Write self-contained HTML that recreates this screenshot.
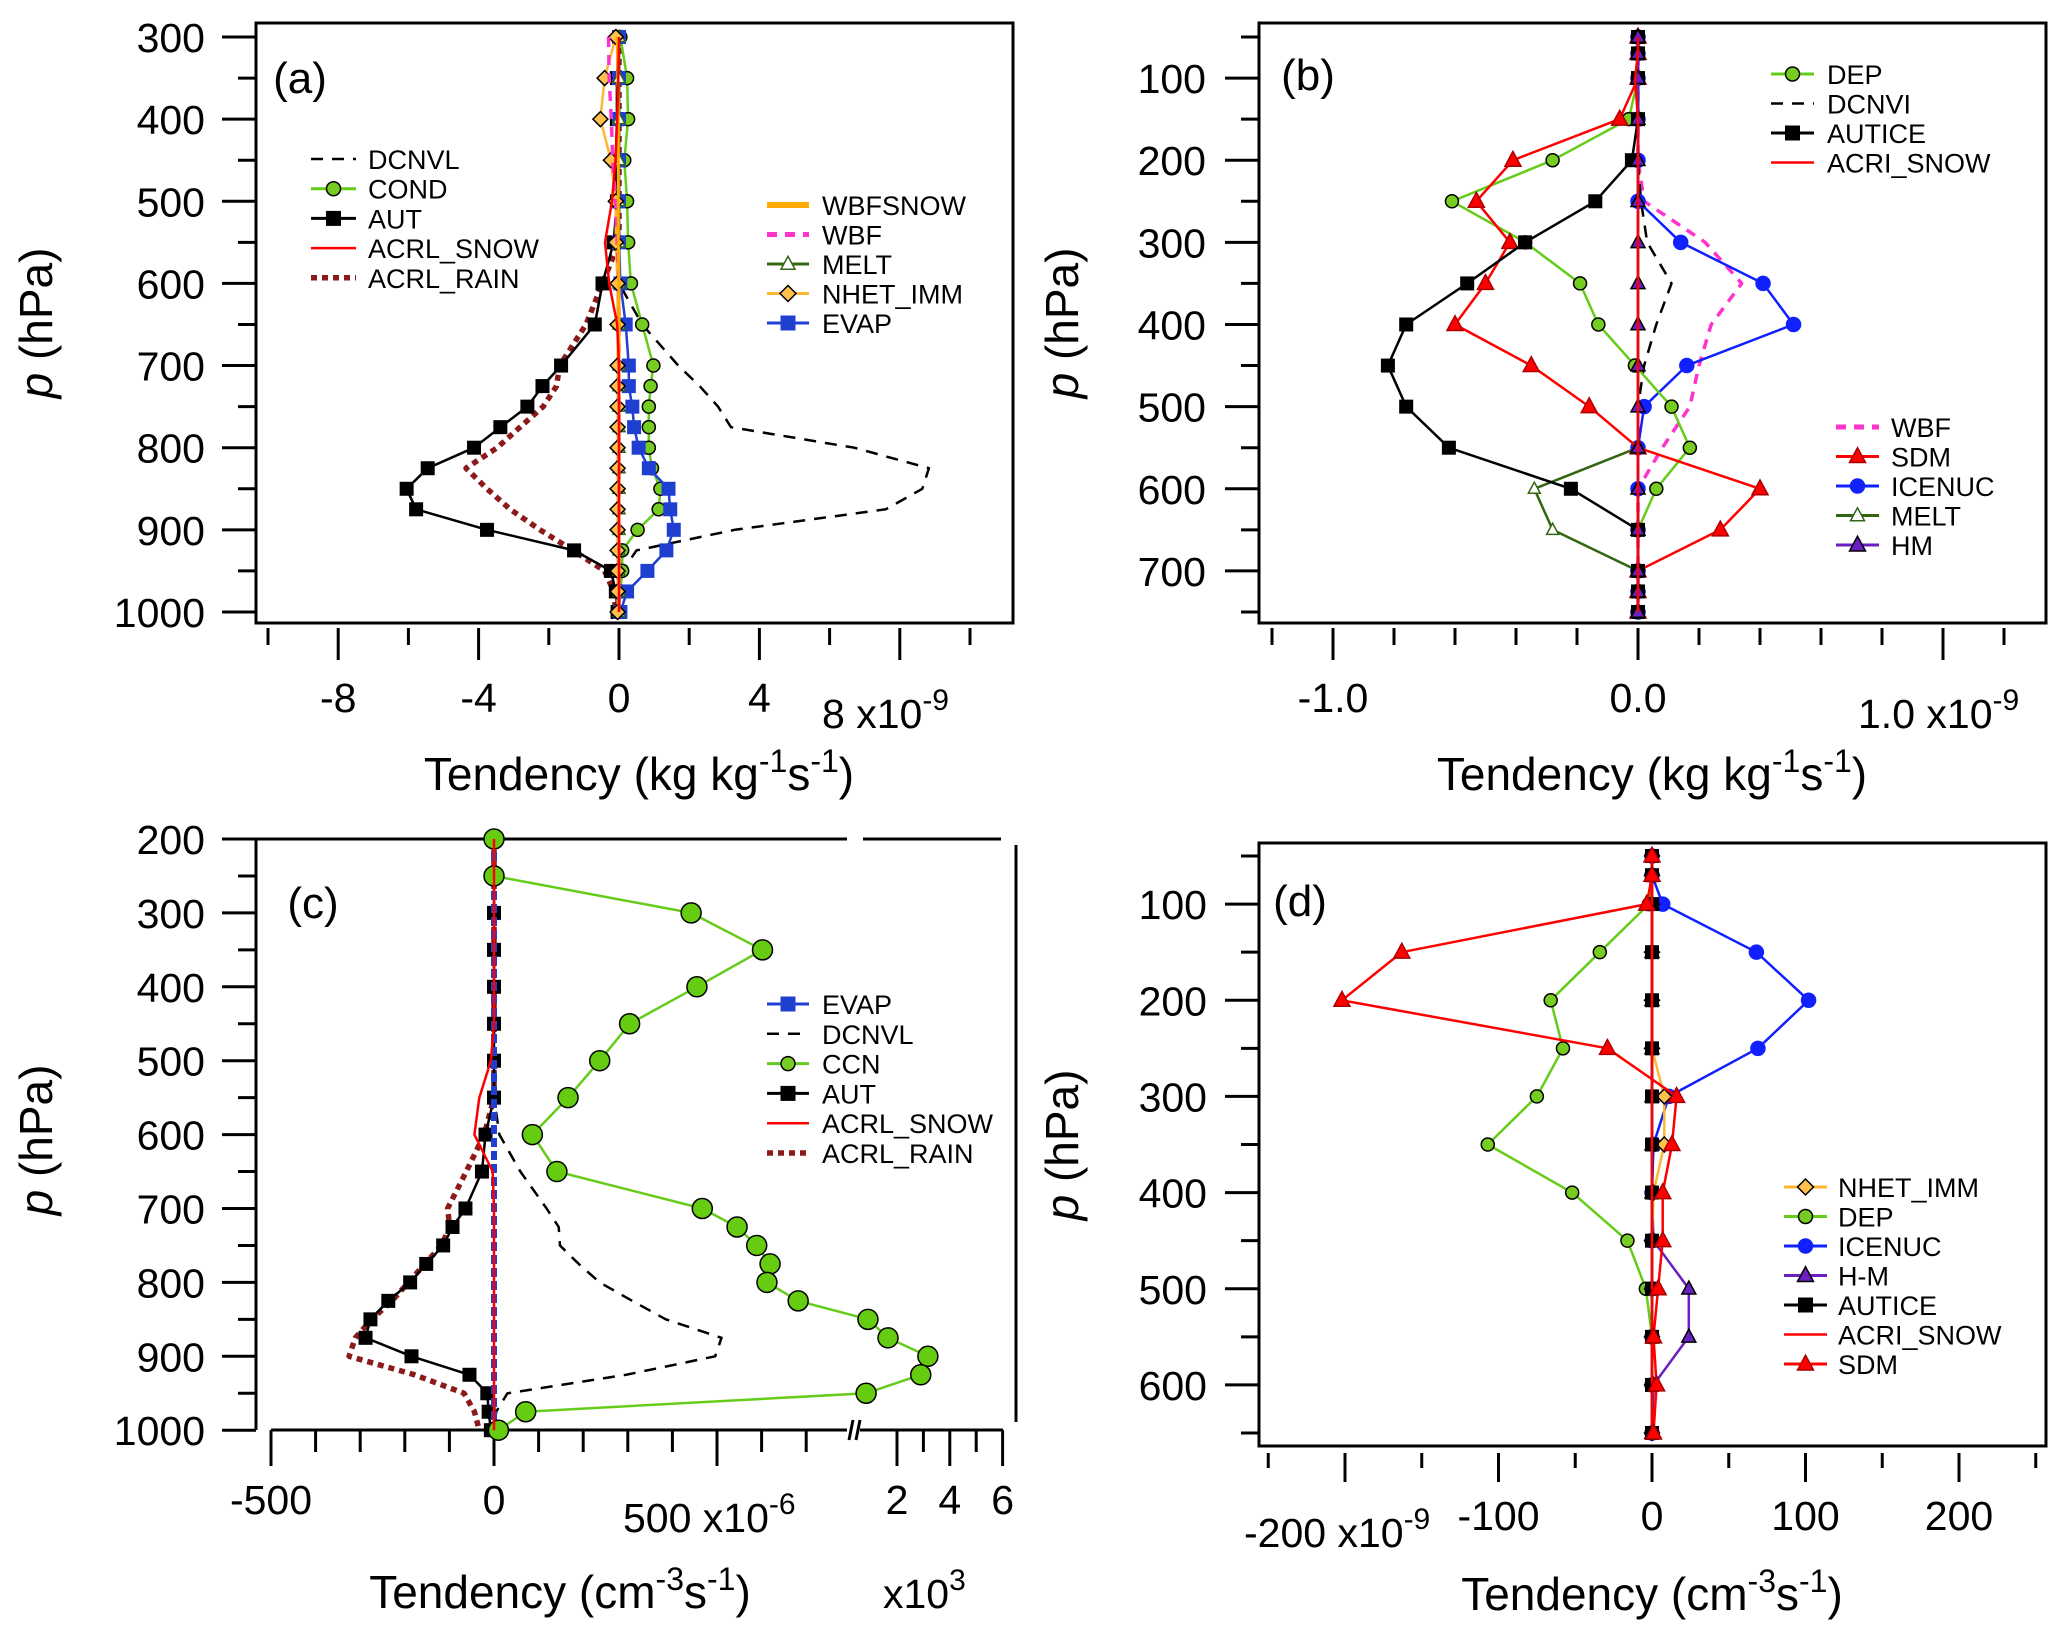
<!DOCTYPE html>
<html><head><meta charset="utf-8"><title>Tendency profiles</title>
<style>
html,body{margin:0;padding:0;background:#fff;}
svg{display:block;font-family:"Liberation Sans",Arial,sans-serif;}
</style></head>
<body>
<svg id="chart" width="2067" height="1633" viewBox="0 0 2067 1633" xmlns="http://www.w3.org/2000/svg"></svg>
<script>
// ---------- DATA ----------
const pA = [300,350,400,450,500,550,600,650,700,725,750,775,800,825,850,875,900,925,950,975,1000];
const aDCNVL = [0,0,0,0,0,0,0,0.66,1.69,2.3,2.82,3.19,6.7,8.83,8.64,7.6,3.3,0.5,0.1,0,0];
const aRAIN = [0,0,0,0,0,0,-0.47,-0.94,-1.69,-1.78,-2.16,-2.82,-3.47,-4.36,-3.76,-3.1,-2.25,-1.31,-0.41,-0.15,-0.09];
const aAUT = [0,-0.06,-0.06,-0.09,-0.06,-0.15,-0.47,-0.69,-1.65,-2.18,-2.61,-3.38,-4.13,-5.45,-6.05,-5.78,-3.76,-1.28,-0.23,-0.09,-0.04];
const aCOND = [0.04,0.23,0.26,0.15,0.23,0.26,0.34,0.66,0.98,0.9,0.85,0.85,0.85,0.94,1.18,1.13,0.53,0.09,0.09,0.04,0];
const aEVAP = [0,0,0,0,0,0,0.04,0.19,0.28,0.28,0.38,0.43,0.56,0.85,1.41,1.46,1.56,1.35,0.81,0.23,0.04];
const aMELT = [0,0,0,0,0,0,0,0,0,0,0,0,0,0,0,0,0,0,0,0,0];
const aNHET = [-0.09,-0.41,-0.53,-0.23,-0.09,-0.09,-0.04,-0.04,-0.04,-0.04,-0.04,-0.04,-0.04,-0.04,-0.04,-0.04,-0.04,-0.04,-0.04,-0.04,-0.04];
const aWBF = [-0.3,-0.28,-0.22,-0.18,-0.1,-0.05,0,0,0,0,0,0,0,0,0,0,0,0,0,0,0];
const aWBFSNOW = [-0.05,-0.03,-0.02,-0.02,-0.02,-0.02,0,0,0,0,0,0,0,0,0,0,0,0,0,0,0];
const aSNOW = [0,-0.02,-0.05,-0.1,-0.2,-0.4,-0.28,-0.05,0,0,0,0,0,0,0,0,0,0,0,0,0];
const aXTicks = [-10,-8,-6,-4,-2,0,2,4,6,8,10];
const aXLabels = ["-8","-4","0","4"];
const aXLabelVals = [-8,-4,0,4];
const aYTicks = [300,400,500,600,700,800,900,1000];

const pB = [50,70,100,150,200,250,300,350,400,450,500,550,600,650,700,725,750];
const bAUTICE = [0,0,0,0,-0.02,-0.14,-0.37,-0.56,-0.76,-0.82,-0.76,-0.62,-0.22,0,0,0,0];
const bDEP = [0,0,0,-0.03,-0.28,-0.61,-0.37,-0.19,-0.13,-0.01,0.11,0.17,0.06,0,0,0,0];
const bSDM = [0,0,0,-0.06,-0.41,-0.53,-0.42,-0.5,-0.6,-0.35,-0.16,0,0.4,0.27,0,0,0];
const bICENUC = [0,0,0,0,0,0,0.14,0.41,0.51,0.16,0.02,0,0,0,0,0,0];
const bWBF = [0,0,0,0,0,0.02,0.22,0.34,0.24,0.2,0.17,0.08,0,0,0,0,0];
const bDCNVI = [0,0,0,0,0,0.01,0.03,0.11,0.06,0.02,0,0,0,0,0,0,0];
const bMELT = [0,0,0,0,0,0,0,0,0,0,0,0,-0.34,-0.28,0,0,0];
const bHM = [0,0,0,0,0,0,0,0,0,0,0,0,0,0,0,0,0];
const bSNOW = [0,0,-0.01,0,0,0,0,0,0,0,0,0,0,0,0,0,0];
const bXTicks = [-1.2,-1.0,-0.8,-0.6,-0.4,-0.2,0,0.2,0.4,0.6,0.8,1.0,1.2];
const bYTicks = [100,200,300,400,500,600,700];

const pC = [200,250,300,350,400,450,500,550,600,650,700,725,750,775,800,825,850,875,900,925,950,975,1000];
const cCCN = [0,0,442,602,455,304,237,166,86,141,467,545,589,619,612,682,0.90e9,1.66e9,3.17e9,2.90e9,0.83e9,71,10];
const cAUT = [0,0,0,0,0,0,0,0,-19,-27,-64,-93,-114,-152,-188,-237,-277,-288,-185,-55,-15,-12,-7];
const cRAIN = [0,0,0,0,0,0,0,0,-22,-62,-104,-99,-118,-155,-192,-229,-274,-311,-325,-178,-67,-44,-33];
const cSNOW = [0,0,0,0,0,0,-7,-33,-44,-3,0,0,0,0,0,0,0,0,0,0,0,0,0];
const cEVAP = [0,0,0,0,0,0,0,0,0,0,0,0,0,0,0,0,0,0,0,0,0,0,0];
const cDCNVL = [0,0,0,0,0,0,0,0,12,59,118,145,148,190,237,310,385,510,496,296,30,5,0];
const cYTicks = [200,300,400,500,600,700,800,900,1000];

const pD = [50,70,100,150,200,250,300,350,400,450,500,550,600,650];
const dSDM = [0,0,-3.4,-163,-202,-29,16,13,7,7,4,1,3,1];
const dDEP = [0,0,-2,-34,-66,-58,-75,-107,-52,-16,-4,0,0,0];
const dICENUC = [0,0,7,68,102,69,11,1,0,0,0,0,0,0];
const dHM = [0,0,0,0,0,0,0,0,0,1,24,24,1,0];
const dNHET = [0,0,0,0,0,0,8,8,1,0,0,0,0,0];
const dAUTICE = [0,0,0,0,0,0,0,0,0,0,0,0,0,0];
const dSNOW = [0,0,0,0,0,0,0,0,0,0,0,0,0,0];
const dXTicks = [-250,-200,-150,-100,-50,0,50,100,150,200,250];
const dYTicks = [100,200,300,400,500,600];

// ---------- AXES ----------
const xA = v => 619 + v*35.1;
const yA = p => 37 + (p-300)*0.8214;
const xB = v => 1638 + v*305;
const yB = p => 37 + (p-50)*0.8214;
const xC = v => v <= 1e6 ? 494 + v*0.446 : 897 + (v/1e9 - 2)*26.4;
const yC = p => 839 + (p-200)*0.739;
const xD = v => 1652 + v*1.535;
const yD = p => 856 + (p-50)*0.9617;

const NS = "http://www.w3.org/2000/svg";
const svg = document.getElementById('chart');
const TICK = 41, TITLE = 46, LEG = 27, PL = 44;
function mk(tag, attrs, parent){
  const e = document.createElementNS(NS, tag);
  for (const k in attrs) e.setAttribute(k, attrs[k]);
  parent.appendChild(e);
  return e;
}
function txt(parent, x, y, s, size, anchor, name){
  const t = mk('text', {x:x, y:y, 'font-size':size, 'text-anchor':anchor||'start', fill:'#000'}, parent);
  t.textContent = s;
  
  
  return t;
}
function marker(g, type, x, y, fill, stroke, s){
  let m;
  if (type==='circle') m = mk('circle', {cx:x, cy:y, r:s, fill:fill, stroke:stroke, 'stroke-width':1.5}, g);
  else if (type==='square') m = mk('rect', {x:x-s, y:y-s, width:2*s, height:2*s, fill:fill, stroke:stroke, 'stroke-width':1}, g);
  else if (type==='tri') m = mk('polygon', {points:`${x},${y-s*1.1} ${x-s},${y+s*0.75} ${x+s},${y+s*0.75}`, fill:fill, stroke:stroke, 'stroke-width':1.5}, g);
  else if (type==='diamond') m = mk('polygon', {points:`${x},${y-s} ${x+s},${y} ${x},${y+s} ${x-s},${y}`, fill:fill, stroke:stroke, 'stroke-width':1.5}, g);
  return m;
}
function series(parent, name, vals, ps, xf, yf, st){
  const g = mk('g', {}, parent);
  
  
  const pts = vals.map((v,i)=> xf(v).toFixed(1)+','+yf(ps[i]).toFixed(1)).join(' ');
  const line = mk('polyline', {points:pts, fill:'none', stroke:st.color, 'stroke-width':st.w||2.5, 'stroke-dasharray':st.dash||'none', 'stroke-linejoin':'round'}, g);
  
  
  if (st.marker){
    vals.forEach((v,i)=>{
      const m = marker(g, st.marker, xf(v), yf(ps[i]), st.fill, st.mstroke||'#000', st.ms||7);
      
      
    });
  }
  return g;
}
function legend(parent, name, x1, x2, xt, y, label, st){
  const g = mk('g', {}, parent);
  
  
  mk('line', {x1:x1, y1:y, x2:x2, y2:y, stroke:st.color, 'stroke-width':st.lw||st.w||3, 'stroke-dasharray':st.ldash||st.dash||'none'}, g);
  if (st.marker) marker(g, st.marker, (x1+x2)/2, y, st.fill, st.mstroke||'#000', st.lms||7);
  txt(g, xt, y+10, label, LEG, 'start', name+'-label');
}
function yAxis(parent, name, left, ticks, minorTicks, yf, labelRight){
  const g = mk('g', {}, parent);
  
  
  ticks.forEach(p=>{
    mk('line', {x1:left-34, y1:yf(p), x2:left, y2:yf(p), stroke:'#000', 'stroke-width':3}, g);
    txt(g, labelRight, yf(p)+15, String(p), TICK, 'end', name+'-tick-label');
  });
  minorTicks.forEach(p=>{
    mk('line', {x1:left-18, y1:yf(p), x2:left, y2:yf(p), stroke:'#000', 'stroke-width':3}, g);
  });
}
function xTicks(parent, name, ticks, majors, xf, y0, yMaj, yMin){
  const g = mk('g', {}, parent);
  
  
  ticks.forEach(v=>{
    const isMaj = majors.some(m=>Math.abs(m-v)<1e-9);
    mk('line', {x1:xf(v), y1:y0, x2:xf(v), y2:isMaj?yMaj:yMin, stroke:'#000', 'stroke-width':3}, g);
  });
}
function yTitle(parent, name, x, y){
  const t = mk('text', {x:0, y:0, 'font-size':TITLE, 'text-anchor':'middle', transform:`translate(${x},${y}) rotate(-90)`}, parent);
  t.innerHTML = '<tspan font-style="italic">p</tspan> (hPa)';
  
  
}
function xTitle(parent, name, x, y, unitHtml){
  const t = mk('text', {x:x, y:y, 'font-size':TITLE, 'text-anchor':'middle'}, parent);
  t.innerHTML = unitHtml;
  
  
}
function mult(parent, name, x, y, base, exp){
  const t = mk('text', {x:x, y:y, 'font-size':TICK}, parent);
  t.innerHTML = base + '<tspan dy="-18" font-size="30">' + exp + '</tspan>';
  
  
}
const kgUnit = 'Tendency (kg kg<tspan dy="-18" font-size="32">-1</tspan><tspan dy="18">s</tspan><tspan dy="-18" font-size="32">-1</tspan><tspan dy="18">)</tspan>';
const cmUnit = 'Tendency (cm<tspan dy="-18" font-size="32">-3</tspan><tspan dy="18">s</tspan><tspan dy="-18" font-size="32">-1</tspan><tspan dy="18">)</tspan>';

const S = {
  dcnvl:{color:'#000', dash:'12,9', w:2.5},
  rain:{color:'#8b1a1a', dash:'6,5', w:5.5, ldash:'6,5', lw:5.5},
  aut:{color:'#000', marker:'square', fill:'#000', ms:6.5, lms:7},
  cond:{color:'#66cc1a', marker:'circle', fill:'#77cc22', ms:6.5, lms:7},
  evap:{color:'#1f3fd0', marker:'square', fill:'#1f3fd0', mstroke:'#1f3fd0', ms:6.5, lms:7},
  melt:{color:'#336611', marker:'tri', fill:'#fff', mstroke:'#336611', ms:6, lms:7},
  nhet:{color:'#ffb733', marker:'diamond', fill:'#ffc04d', ms:7.5, lms:8},
  wbf:{color:'#ff33cc', dash:'10,8', w:3.5, lw:5},
  wbfsnow:{color:'#ffaa00', w:3, lw:6},
  snow:{color:'#ff0000', w:2.5},
  sdm:{color:'#ff0000', marker:'tri', fill:'#ff0000', mstroke:'#aa0000', ms:8, lms:8},
  icenuc:{color:'#1020ff', marker:'circle', fill:'#1020ff', mstroke:'#1020ff', ms:7, lms:7},
  hm:{color:'#6a1fc0', marker:'tri', fill:'#6a1fc0', mstroke:'#000', ms:7, lms:8},
  dep:{color:'#66cc1a', marker:'circle', fill:'#77cc22', ms:6.5, lms:7},
  autice:{color:'#000', marker:'square', fill:'#000', ms:6.5, lms:7}
};

// ================= PANEL A =================
const PA = mk('g', {}, svg);


mk('rect', {x:256, y:23, width:757, height:600, fill:'none', stroke:'#000', 'stroke-width':3}, PA);
yAxis(PA, 'panel-a-y-axis', 256, aYTicks, [350,450,550,650,750,850,950], yA, 205);
xTicks(PA, 'panel-a-x-axis', aXTicks, [-8,-4,0,4,8], xA, 628, 660, 645);
aXLabelVals.forEach((v,i)=>txt(PA, xA(v), 712, aXLabels[i], TICK, 'middle', 'panel-a-x-tick-label'));
mult(PA, 'panel-a-x-multiplier', 822, 728, '8 x10', '-9');
xTitle(PA, 'panel-a-x-title', 639, 790, kgUnit);
yTitle(PA, 'panel-a-y-title', 52, 323);
txt(PA, 300, 93, '(a)', PL, 'middle', 'panel-a-label');
const PAd = mk('g', {}, PA);
series(PAd, 'a-dcnvl', aDCNVL, pA, xA, yA, S.dcnvl);
series(PAd, 'a-acrl-rain', aRAIN, pA, xA, yA, S.rain);
series(PAd, 'a-aut', aAUT, pA, xA, yA, S.aut);
series(PAd, 'a-cond', aCOND, pA, xA, yA, S.cond);
series(PAd, 'a-evap', aEVAP, pA, xA, yA, S.evap);
series(PAd, 'a-melt', aMELT, pA, xA, yA, S.melt);
series(PAd, 'a-nhet-imm', aNHET, pA, xA, yA, S.nhet);
series(PAd, 'a-wbf', aWBF, pA, xA, yA, S.wbf);
series(PAd, 'a-wbfsnow', aWBFSNOW, pA, xA, yA, S.wbfsnow);
series(PAd, 'a-acrl-snow', aSNOW, pA, xA, yA, S.snow);
[['DCNVL',S.dcnvl],['COND',S.cond],['AUT',S.aut],['ACRL_SNOW',S.snow],['ACRL_RAIN',S.rain]].forEach((e,i)=>
  legend(PA, 'a-legend-'+e[0].toLowerCase(), 311, 356, 368, 159+i*29.7, e[0], e[1]));
[['WBFSNOW',S.wbfsnow],['WBF',S.wbf],['MELT',S.melt],['NHET_IMM',S.nhet],['EVAP',S.evap]].forEach((e,i)=>
  legend(PA, 'a-legend-'+e[0].toLowerCase(), 767, 809, 822, 205+i*29.5, e[0], e[1]));

// ================= PANEL B =================
const PB = mk('g', {}, svg);


mk('rect', {x:1259, y:23, width:787, height:600, fill:'none', stroke:'#000', 'stroke-width':3}, PB);
yAxis(PB, 'panel-b-y-axis', 1259, bYTicks, [50,150,250,350,450,550,650,750], yB, 1206);
xTicks(PB, 'panel-b-x-axis', bXTicks, [-1.0,0,1.0], xB, 628, 660, 645);
txt(PB, xB(-1.0), 712, '-1.0', TICK, 'middle', 'panel-b-x-tick-label');
txt(PB, xB(0), 712, '0.0', TICK, 'middle', 'panel-b-x-tick-label');
mult(PB, 'panel-b-x-multiplier', 1858, 728, '1.0 x10', '-9');
xTitle(PB, 'panel-b-x-title', 1652, 790, kgUnit);
yTitle(PB, 'panel-b-y-title', 1078, 323);
txt(PB, 1308, 90, '(b)', PL, 'middle', 'panel-b-label');
series(PB, 'b-wbf', bWBF, pB, xB, yB, S.wbf);
series(PB, 'b-dcnvi', bDCNVI, pB, xB, yB, S.dcnvl);
series(PB, 'b-melt', bMELT, pB, xB, yB, S.melt);
series(PB, 'b-icenuc', bICENUC, pB, xB, yB, S.icenuc);
series(PB, 'b-dep', bDEP, pB, xB, yB, S.dep);
series(PB, 'b-sdm', bSDM, pB, xB, yB, S.sdm);
series(PB, 'b-autice', bAUTICE, pB, xB, yB, S.autice);
series(PB, 'b-hm', bHM, pB, xB, yB, S.hm);
series(PB, 'b-acri-snow', bSNOW, pB, xB, yB, S.snow);
[['DEP',S.dep],['DCNVI',S.dcnvl],['AUTICE',S.autice],['ACRI_SNOW',S.snow]].forEach((e,i)=>
  legend(PB, 'b-legend-'+e[0].toLowerCase(), 1771, 1814, 1827, 74+i*29.5, e[0], e[1]));
[['WBF',S.wbf],['SDM',S.sdm],['ICENUC',S.icenuc],['MELT',S.melt],['HM',S.hm]].forEach((e,i)=>
  legend(PB, 'b-legend-'+e[0].toLowerCase(), 1836, 1879, 1891, 427+i*29.5, e[0], e[1]));

// ================= PANEL C =================
const PC = mk('g', {}, svg);


const cAx = mk('g', {stroke:'#000', 'stroke-width':3, fill:'none'}, PC);


mk('line', {x1:256, y1:839, x2:256, y2:1430}, cAx);
mk('line', {x1:256, y1:839, x2:847, y2:839}, cAx);
mk('line', {x1:863, y1:839, x2:1001, y2:839}, cAx);
mk('line', {x1:1016, y1:845, x2:1016, y2:1422}, cAx);
mk('line', {x1:271, y1:1430, x2:847, y2:1430}, cAx);
mk('line', {x1:860, y1:1430, x2:1003, y2:1430}, cAx);
mk('line', {x1:849, y1:1440, x2:853, y2:1420}, cAx);
mk('line', {x1:856, y1:1440, x2:860, y2:1420}, cAx);
yAxis(PC, 'panel-c-y-axis', 256, cYTicks, [250,350,450,550,650,750,850,950], yC, 205);
xTicks(PC, 'panel-c-x-axis-left', [-500,-400,-300,-200,-100,0,100,200,300,400,500,600,700], [-500,0,500], xC, 1430, 1466, 1452);
xTicks(PC, 'panel-c-x-axis-right', [2e9,3e9,4e9,5e9,6e9], [2e9,4e9,6e9], xC, 1430, 1466, 1452);
txt(PC, xC(-500), 1514, '-500', TICK, 'middle', 'panel-c-x-tick-label');
txt(PC, xC(0), 1514, '0', TICK, 'middle', 'panel-c-x-tick-label');
mult(PC, 'panel-c-x-multiplier', 623, 1532, '500 x10', '-6');
txt(PC, xC(2e9), 1514, '2', TICK, 'middle', 'panel-c-x-tick-label');
txt(PC, xC(4e9), 1514, '4', TICK, 'middle', 'panel-c-x-tick-label');
txt(PC, xC(6e9), 1514, '6', TICK, 'middle', 'panel-c-x-tick-label');
mult(PC, 'panel-c-x-break-multiplier', 883, 1608, 'x10', '3');
xTitle(PC, 'panel-c-x-title', 560, 1608, cmUnit);
yTitle(PC, 'panel-c-y-title', 52, 1140);
txt(PC, 313, 918, '(c)', PL, 'middle', 'panel-c-label');
series(PC, 'c-dcnvl', cDCNVL, pC, xC, yC, S.dcnvl);
series(PC, 'c-acrl-rain', cRAIN, pC, xC, yC, S.rain);
series(PC, 'c-aut', cAUT, pC, xC, yC, S.aut);
series(PC, 'c-evap', cEVAP, pC, xC, yC, {color:'#1f3fd0', w:6, dash:'9,4'});
series(PC, 'c-ccn', cCCN, pC, xC, yC, {color:'#66cc1a', marker:'circle', fill:'#66cc11', ms:10});
series(PC, 'c-acrl-snow', cSNOW, pC, xC, yC, S.snow);
[['EVAP',S.evap],['DCNVL',S.dcnvl],['CCN',S.cond],['AUT',S.aut],['ACRL_SNOW',S.snow],['ACRL_RAIN',S.rain]].forEach((e,i)=>
  legend(PC, 'c-legend-'+e[0].toLowerCase(), 767, 809, 822, 1004+i*29.8, e[0], e[1]));

// ================= PANEL D =================
const PD = mk('g', {}, svg);


mk('rect', {x:1259, y:843, width:787, height:603, fill:'none', stroke:'#000', 'stroke-width':3}, PD);
yAxis(PD, 'panel-d-y-axis', 1259, dYTicks, [50,150,250,350,450,550,650], yD, 1207);
xTicks(PD, 'panel-d-x-axis', dXTicks, [-200,-100,0,100,200], xD, 1453, 1482, 1468);
mult(PD, 'panel-d-x-multiplier', 1244, 1547, '-200 x10', '-9');
txt(PD, xD(-100), 1530, '-100', TICK, 'middle', 'panel-d-x-tick-label');
txt(PD, xD(0), 1530, '0', TICK, 'middle', 'panel-d-x-tick-label');
txt(PD, xD(100), 1530, '100', TICK, 'middle', 'panel-d-x-tick-label');
txt(PD, xD(200), 1530, '200', TICK, 'middle', 'panel-d-x-tick-label');
xTitle(PD, 'panel-d-x-title', 1652, 1610, cmUnit);
yTitle(PD, 'panel-d-y-title', 1078, 1145);
txt(PD, 1300, 916, '(d)', PL, 'middle', 'panel-d-label');
series(PD, 'd-dep', dDEP, pD, xD, yD, S.dep);
series(PD, 'd-icenuc', dICENUC, pD, xD, yD, S.icenuc);
series(PD, 'd-hm', dHM, pD, xD, yD, S.hm);
series(PD, 'd-nhet-imm', dNHET, pD, xD, yD, S.nhet);
series(PD, 'd-autice', dAUTICE, pD, xD, yD, S.autice);
series(PD, 'd-acri-snow', dSNOW, pD, xD, yD, S.snow);
series(PD, 'd-sdm', dSDM, pD, xD, yD, S.sdm);
[['NHET_IMM',S.nhet],['DEP',S.dep],['ICENUC',S.icenuc],['H-M',S.hm],['AUTICE',S.autice],['ACRI_SNOW',S.snow],['SDM',S.sdm]].forEach((e,i)=>
  legend(PD, 'd-legend-'+e[0].toLowerCase(), 1784, 1827, 1838, 1187+i*29.5, e[0], e[1]));
</script>
</body></html>
